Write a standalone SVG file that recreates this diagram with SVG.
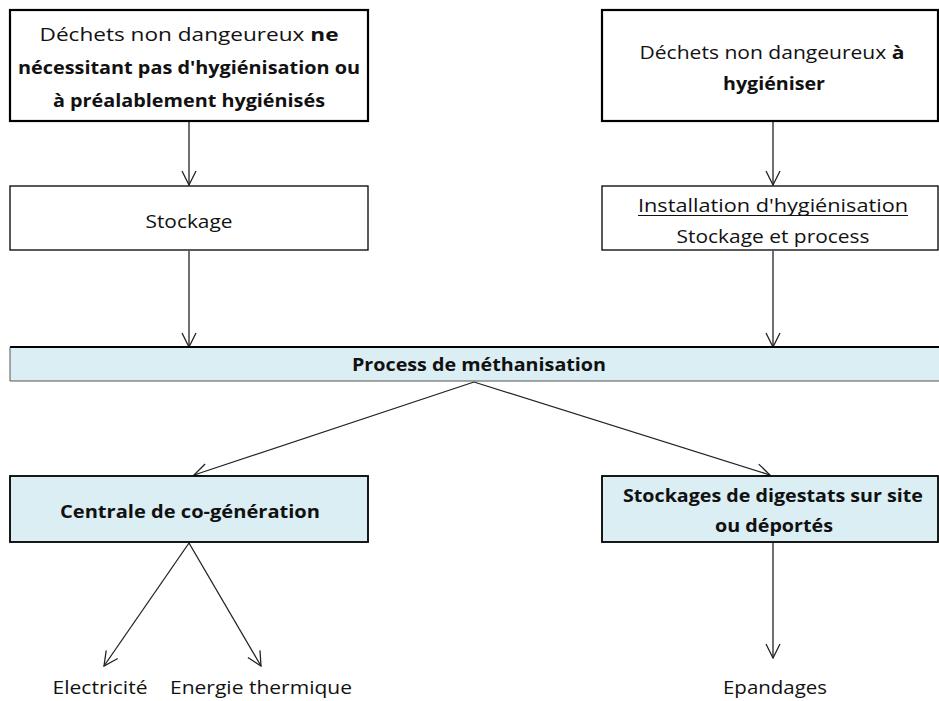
<svg xmlns="http://www.w3.org/2000/svg" width="939" height="701" viewBox="0 0 939 701">
  <style>
    text { font-family: "Open Sans", "Noto Sans", "Liberation Sans", sans-serif; font-size: 18.5px; fill: #111; text-anchor: middle; }
    .b { font-weight: bold; }
    .box { fill: #ffffff; stroke: #000; stroke-width: 1.3; }
    .box2 { fill: #ffffff; stroke: #000; stroke-width: 2.2; }
    .blue { fill: #DAEEF3; stroke: #000; stroke-width: 1.8; }
    .conn { stroke: #222; stroke-width: 1.3; fill: none; marker-end: url(#open); }
  </style>
  <defs>
    <marker id="open" viewBox="0 0 16 16" refX="15" refY="8" markerWidth="16" markerHeight="16" markerUnits="userSpaceOnUse" orient="auto">
      <path d="M1,1 L15,8 L1,15" fill="none" stroke="#222" stroke-width="1.3"/>
    </marker>
  </defs>

  <g id="connectors">
    <line class="conn" x1="189" y1="122" x2="189" y2="185"/>
    <line class="conn" x1="773" y1="122" x2="773" y2="185"/>
    <line class="conn" x1="189" y1="251" x2="189" y2="347"/>
    <line class="conn" x1="773" y1="251" x2="773" y2="347"/>
    <line class="conn" x1="474" y1="382" x2="194" y2="475"/>
    <line class="conn" x1="474" y1="382" x2="770" y2="475"/>
    <line class="conn" x1="189" y1="543" x2="104" y2="666"/>
    <line class="conn" x1="189" y1="543" x2="261" y2="666"/>
    <line class="conn" x1="773" y1="543" x2="773" y2="658"/>
  </g>

  <g id="dechets-sans-hygienisation">
    <rect class="box2" x="10" y="10" width="358" height="111"/>
    <text x="189" y="41" textLength="299" lengthAdjust="spacingAndGlyphs">Déchets non dangeureux <tspan class="b">ne</tspan></text>
    <text class="b" x="189" y="74" textLength="342" lengthAdjust="spacingAndGlyphs">nécessitant pas d'hygiénisation ou</text>
    <text class="b" x="189" y="107" textLength="272" lengthAdjust="spacingAndGlyphs">à préalablement hygiénisés</text>
  </g>

  <g id="dechets-a-hygieniser">
    <rect class="box2" x="602" y="10" width="336" height="111"/>
    <text x="772" y="59" textLength="265" lengthAdjust="spacingAndGlyphs">Déchets non dangeureux <tspan class="b">à</tspan></text>
    <text class="b" x="774" y="90" textLength="102" lengthAdjust="spacingAndGlyphs">hygiéniser</text>
  </g>

  <g id="stockage">
    <rect class="box" x="10" y="186" width="358" height="64"/>
    <text x="189" y="228" textLength="87" lengthAdjust="spacingAndGlyphs">Stockage</text>
  </g>

  <g id="installation-hygienisation">
    <rect class="box" x="602" y="186" width="336" height="64"/>
    <text x="773" y="212" textLength="270" lengthAdjust="spacingAndGlyphs">Installation d'hygiénisation</text>
    <line x1="638" y1="215.5" x2="908" y2="215.5" stroke="#111" stroke-width="1"/>
    <text x="773" y="243" textLength="193" lengthAdjust="spacingAndGlyphs">Stockage et process</text>
  </g>

  <g id="process-methanisation">
    <rect x="10" y="347" width="929" height="34" fill="#DAEEF3"/>
    <line x1="10" y1="347" x2="939" y2="347" stroke="#000" stroke-width="2.2"/>
    <line x1="10" y1="381" x2="939" y2="381" stroke="#555" stroke-width="1.2"/>
    <line x1="10" y1="347" x2="10" y2="381" stroke="#555" stroke-width="1"/>
    <text class="b" x="479" y="371" textLength="254" lengthAdjust="spacingAndGlyphs">Process de méthanisation</text>
  </g>

  <g id="centrale-cogeneration">
    <rect class="blue" x="10" y="476" width="358" height="66"/>
    <text class="b" x="190" y="518" textLength="260" lengthAdjust="spacingAndGlyphs">Centrale de co-génération</text>
  </g>

  <g id="stockages-digestats">
    <rect class="blue" x="602" y="476" width="336" height="66"/>
    <text class="b" x="773" y="502" textLength="300" lengthAdjust="spacingAndGlyphs">Stockages de digestats sur site</text>
    <text class="b" x="774" y="532" textLength="118" lengthAdjust="spacingAndGlyphs">ou déportés</text>
  </g>

  <g id="electricite">
    <text x="100" y="694" textLength="95" lengthAdjust="spacingAndGlyphs">Electricité</text>
  </g>
  <g id="energie-thermique">
    <text x="261" y="694" textLength="182" lengthAdjust="spacingAndGlyphs">Energie thermique</text>
  </g>
  <g id="epandages">
    <text x="775" y="694" textLength="104" lengthAdjust="spacingAndGlyphs">Epandages</text>
  </g>
</svg>
